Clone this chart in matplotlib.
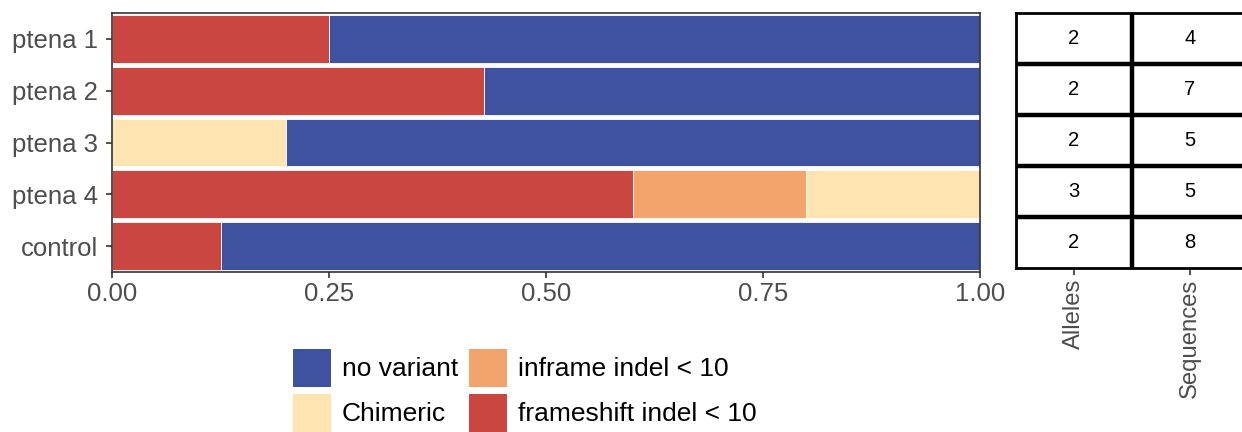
import numpy as np
import matplotlib
matplotlib.use('Agg')
from matplotlib import pyplot as plt
from matplotlib.patches import Patch

plt.rcParams['font.family'] = ['Liberation Sans', 'DejaVu Sans']

# samples, top to bottom
samples = ['ptena 1', 'ptena 2', 'ptena 3', 'ptena 4', 'control']

# fraction of sequences per class, stacked left to right
frameshift = [0.25, 0.4286, 0.0, 0.6, 0.125]
inframe = [0.0, 0.0, 0.0, 0.2, 0.0]
chimeric = [0.0, 0.0, 0.2, 0.2, 0.0]
no_variant = [0.75, 0.5714, 0.8, 0.0, 0.875]

alleles = [2, 2, 2, 3, 2]
sequences = [4, 7, 5, 5, 8]
table_cols = ['Alleles', 'Sequences']

colors = {
    'no variant': '#3F52A0',
    'Chimeric': '#FEE4B0',
    'inframe indel < 10': '#F3A46D',
    'frameshift indel < 10': '#CA4641',
}

grey = '#4D4D4D'
fig = plt.figure(figsize=(12.42, 4.32), dpi=100)
W, H = 1242, 432

# main stacked bar panel
ax = fig.add_axes([112 / W, 1 - 272 / H, 868 / W, 259 / H])
y = np.arange(len(samples))[::-1]
left = np.zeros(len(samples))
for name, vals in [('frameshift indel < 10', frameshift),
                   ('inframe indel < 10', inframe),
                   ('Chimeric', chimeric),
                   ('no variant', no_variant)]:
    vals = np.array(vals)
    ax.barh(y, vals, left=left, height=0.92, color=colors[name],
            edgecolor='white', linewidth=0.6)
    left += vals

ax.set_xlim(0, 1)
ax.set_ylim(-0.5, 4.5)
ax.set_yticks(y)
ax.set_yticklabels(samples)
ax.set_xticks([0, 0.25, 0.5, 0.75, 1.0])
ax.set_xticklabels(['0.00', '0.25', '0.50', '0.75', '1.00'])
ax.tick_params(colors='#333333', labelcolor=grey, labelsize=18.5, length=4.5, width=1.2)
ax.tick_params(axis='y', pad=5.5)
ax.tick_params(axis='x', pad=3)
for s in ax.spines.values():
    s.set_color('#333333')
    s.set_linewidth(1.2)

# side table panel
tx = fig.add_axes([1016 / W, 1 - 268 / H, 232 / W, 255 / H])
tx.set_xlim(0.5, 2.5)
tx.set_ylim(-0.5, 4.5)
for i in range(len(samples)):
    tx.text(1, y[i], str(alleles[i]), ha='center', va='center', fontsize=14.5)
    tx.text(2, y[i], str(sequences[i]), ha='center', va='center', fontsize=14.5)
for b in np.arange(0.5, 4.5, 1):
    tx.axhline(b, color='black', linewidth=3.2)
tx.axvline(1.5, color='black', linewidth=3.2)
tx.set_xticks([1, 2])
tx.set_xticklabels(table_cols, rotation=90)
tx.set_yticks([])
tx.tick_params(colors='#333333', labelcolor=grey, labelsize=17.2, length=5, width=1.2, pad=3)
for s in tx.spines.values():
    s.set_color('black')
    s.set_linewidth(2)

# legend
labels = ['no variant', 'Chimeric', 'inframe indel < 10', 'frameshift indel < 10']
handles = [Patch(facecolor=colors[k], edgecolor='none') for k in labels]
fig.legend(handles, labels, ncol=2, frameon=False, fontsize=19,
           loc='lower left', bbox_to_anchor=(293 / W, 0.0),
           borderaxespad=0, borderpad=0,
           handlelength=1.44, handleheight=1.85, handletextpad=0.42,
           columnspacing=0.4, labelspacing=0.26)

fig.savefig('out.png', dpi=100)
